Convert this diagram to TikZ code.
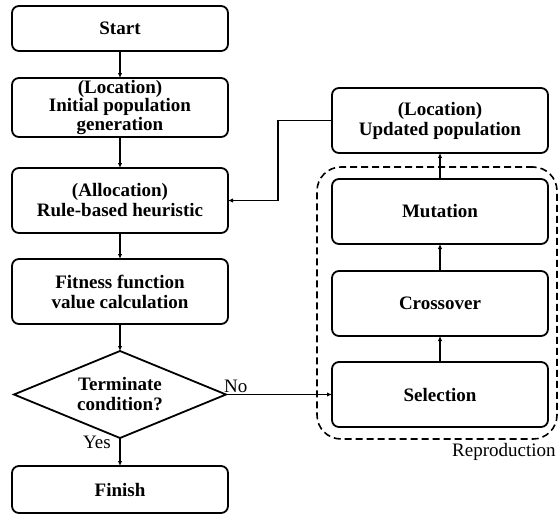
\documentclass[tikz,border=0pt]{standalone}
\usepackage{fontspec}
\setmainfont{Liberation Serif}
\usetikzlibrary{arrows.meta,positioning,shapes.geometric}
\usetikzlibrary{fit}
\tikzset{
	%Define standard arrow tip
	>={Latex[length=5pt,width=4.5pt]},
	%Define style for process boxes
	procbox/.style={
		rectangle,
		rounded corners=7pt,
		draw=black, line width=1.8pt,
		minimum width=216pt,
		minimum height=65pt,
		inner sep=0pt, outer sep=0pt,
		align=center,
		font=\fontsize{19}{20}\selectfont\bfseries},
	%Define style for the decision
	decision/.style={
		diamond,
		aspect=2.44,
		draw=black, line width=1.8pt,
		minimum width=212pt,
		minimum height=87pt,
		inner sep=0pt, outer sep=0pt,
		align=center,
		font=\fontsize{19}{20}\selectfont\bfseries},
	% Define arrow style
	pil/.style={
		->,
		line width=1.4pt},
	% plain labels
	lbl/.style={
		inner sep=1pt,
		font=\fontsize{19}{21}\selectfont}
}
\begin{document}
\begin{tikzpicture}[x=1pt,y=1pt]
	\useasboundingbox (0,0) rectangle (559,-514);

	% main flow
	\node[procbox,minimum height=45pt] (start) at (120,-28.5) {Start};
	\node[procbox,minimum height=59pt,font=\fontsize{19}{18.5}\selectfont\bfseries, below = 27pt of start] (init) {(Location)\\Initial population\\generation};
	\node[procbox, below = 31pt of init] (alloc) {(Allocation)\\Rule-based heuristic};
	\node[procbox, below = 26pt of alloc] (fitness) {Fitness function\\value calculation};
	\node[decision, below = 27pt of fitness] (term) {Terminate\\condition?};
	\node[procbox,minimum height=47pt, below = 28pt of term] (finish) {Finish};

	% reproduction
	\node[procbox] (upd) at (440,-120.5) {(Location)\\Updated population};
	\node[procbox, below = 26pt of upd] (mut) {Mutation};
	\node[procbox, below = 27pt of mut] (cross) {Crossover};
	\node[procbox, below = 26pt of cross] (sel) {Selection};

	\node[draw,dashed,line width=1.6pt,dash pattern=on 7pt off 4pt,rounded corners=24pt,
		inner xsep=12pt,inner ysep=12pt,xshift=-3pt,fit=(mut)(sel)] (repro) {};
	\node[lbl, below left = 2pt and 1pt of repro.south east] (reprolbl) {Reproduction};

	\path[pil]
	(start) edge (init)
	(init) edge (alloc)
	(alloc) edge (fitness)
	(fitness) edge (term)
	(term) edge (finish)
	(term.east) edge (sel.west)
	(sel) edge (cross)
	(cross) edge (mut)
	(mut) edge (upd);
	\draw[pil] (upd.west) -- ([xshift=-54pt]upd.west) |- (alloc.east);

	\node[lbl, above right = 1pt and -3pt of term.east] (no) {No};
	\node[lbl, below left = -3pt and 8pt of term.south] (yes) {Yes};
\end{tikzpicture}
\end{document}
